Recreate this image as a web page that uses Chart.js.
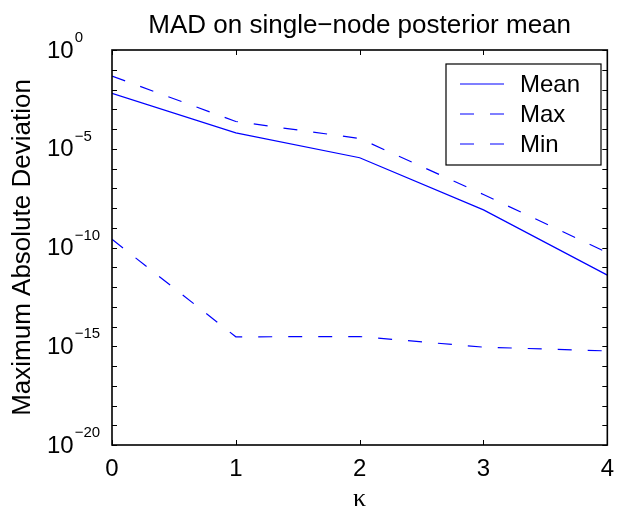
<!DOCTYPE html>
<html>
<head>
<meta charset="utf-8">
<script src="https://cdn.jsdelivr.net/npm/chart.js@4"></script>
<style>
  html, body { margin: 0; padding: 0; background: #fff; }
</style>
</head>
<body>
<canvas id="mad" width="624" height="515"></canvas>
<script>
const kappa = [0, 1, 2, 3, 4];
const meanDev = [6.4e-3, 6.4e-5, 3.5e-6, 8e-9, 4e-12];
const maxDev = [4.8e-2, 2.4e-4, 3.3e-5, 4.8e-8, 5.5e-11];
const minDev = [2.6e-10, 3e-15, 3.1e-15, 9e-16, 5.8e-16];
const yExponents = [0, -5, -10, -15, -20];
const titleText = 'MAD on single\u2212node posterior mean';

Chart.defaults.font.family = '"Liberation Sans", Arial, sans-serif';
Chart.defaults.color = '#000';

const pts = vals => kappa.map((k, i) => ({ x: k, y: vals[i] }));

// box, inward ticks, y labels with superscripts, title
const matlabFrame = {
  id: 'matlabFrame',
  afterDatasetsDraw(chart) {
    const { ctx, chartArea: a, scales: { x, y } } = chart;
    ctx.save();
    ctx.strokeStyle = '#000';
    ctx.lineWidth = 1;
    ctx.beginPath();
    y.ticks.forEach(t => {
      const py = Math.round(y.getPixelForValue(t.value)) + 0.5;
      ctx.moveTo(a.left, py); ctx.lineTo(a.left + 5, py);
      ctx.moveTo(a.right, py); ctx.lineTo(a.right - 5, py);
    });
    x.ticks.forEach(t => {
      const px = Math.round(x.getPixelForValue(t.value)) + 0.5;
      ctx.moveTo(px, a.bottom); ctx.lineTo(px, a.bottom - 5);
      ctx.moveTo(px, a.top); ctx.lineTo(px, a.top + 5);
    });
    ctx.stroke();
    ctx.lineWidth = 1.6;
    ctx.strokeRect(a.left, a.top, a.right - a.left, a.bottom - a.top);

    ctx.fillStyle = '#000';
    ctx.textAlign = 'left';
    ctx.textBaseline = 'middle';
    yExponents.forEach(e => {
      const py = y.getPixelForValue(Math.pow(10, e));
      ctx.font = '24px "Liberation Sans"';
      ctx.fillText('10', 47, py + 1);
      const w = ctx.measureText('10').width;
      ctx.font = '15px "Liberation Sans"';
      ctx.fillText(e === 0 ? '0' : '\u2212' + (-e), 47 + w + 1, py - 12);
    });

    ctx.textAlign = 'center';
    ctx.font = '26px "Liberation Sans"';
    ctx.fillText(titleText, (a.left + a.right) / 2, 26);
    ctx.restore();
  }
};

const insideLegend = {
  id: 'insideLegend',
  afterDatasetsDraw(chart) {
    const { ctx } = chart;
    const bx = 446, by = 64, bw = 155, bh = 101;
    ctx.save();
    ctx.fillStyle = '#fff';
    ctx.fillRect(bx, by, bw, bh);
    ctx.strokeStyle = '#000';
    ctx.lineWidth = 1.2;
    ctx.strokeRect(bx, by, bw, bh);
    chart.data.datasets.forEach((ds, i) => {
      const ry = by + 20 + i * 30;
      ctx.strokeStyle = ds.borderColor;
      ctx.lineWidth = ds.borderWidth;
      ctx.setLineDash(ds.borderDash || []);
      ctx.beginPath();
      ctx.moveTo(bx + 14, ry);
      ctx.lineTo(bx + 58, ry);
      ctx.stroke();
      ctx.setLineDash([]);
      ctx.fillStyle = '#000';
      ctx.font = '24px "Liberation Sans"';
      ctx.textAlign = 'left';
      ctx.textBaseline = 'middle';
      ctx.fillText(ds.label, bx + 74, ry + 1);
    });
    ctx.restore();
  }
};

new Chart(document.getElementById('mad'), {
  type: 'line',
  data: {
    datasets: [
      { label: 'Mean', data: pts(meanDev), borderColor: 'rgb(0, 0, 255)', borderWidth: 1.2, pointRadius: 0, tension: 0 },
      { label: 'Max', data: pts(maxDev), borderColor: 'rgb(0, 0, 255)', borderWidth: 1.2, borderDash: [14, 16], pointRadius: 0, tension: 0 },
      { label: 'Min', data: pts(minDev), borderColor: 'rgb(0, 0, 255)', borderWidth: 1.2, borderDash: [14, 16], pointRadius: 0, tension: 0 }
    ]
  },
  options: {
    responsive: false,
    animation: false,
    devicePixelRatio: 1,
    layout: { padding: { top: 50, right: 11, left: 0, bottom: 0 } },
    plugins: {
      legend: { display: false },
      title: { display: false },
      tooltip: { enabled: false }
    },
    scales: {
      x: {
        type: 'linear',
        min: 0,
        max: 4,
        ticks: { stepSize: 1, padding: 10, font: { size: 24 }, color: '#000' },
        grid: { display: false, drawTicks: false },
        border: { display: false },
        title: {
          display: true,
          text: '\u03ba',
          font: { family: '"Liberation Serif", serif', size: 26 },
          padding: { top: 0, bottom: 0 }
        },
        afterFit: s => { s.height = 70; }
      },
      y: {
        type: 'logarithmic',
        min: 1e-20,
        max: 1,
        ticks: { display: false },
        grid: { display: false, drawTicks: false },
        border: { display: false },
        title: {
          display: true,
          text: 'Maximum Absolute Deviation',
          font: { size: 26 },
          padding: { top: 7, bottom: 0 }
        },
        afterBuildTicks: s => {
          const t = [];
          for (let e = -20; e <= 0; e++) t.push({ value: Math.pow(10, e) });
          s.ticks = t;
        },
        afterFit: s => { s.width = 112; }
      }
    }
  },
  plugins: [matlabFrame, insideLegend]
});
</script>
</body>
</html>
